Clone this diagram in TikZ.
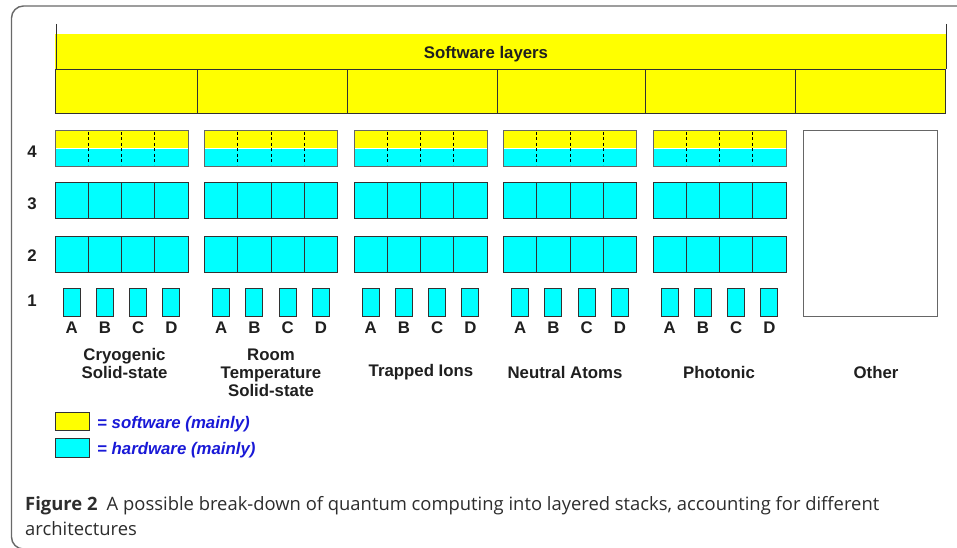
\documentclass[tikz,border=0pt]{standalone}
\usepackage{fontspec}
\setmainfont{Liberation Sans}
\newfontfamily\capfont{Open Sans}
\usetikzlibrary{calc}
\definecolor{yel}{RGB}{255,255,0}
\definecolor{cya}{RGB}{0,255,255}
\definecolor{legblue}{RGB}{25,25,215}
\definecolor{framec}{RGB}{105,105,105}
\definecolor{captxt}{RGB}{45,45,45}
\definecolor{edge}{RGB}{50,50,50}
\begin{document}
\begin{tikzpicture}[x=1pt,y=-1pt,
  box/.style={draw=edge, line width=0.9pt, inner sep=0pt, outer sep=0pt},
  lab/.style={font=\bfseries\fontsize{16.8}{18}\selectfont, text=black!88, align=center, inner sep=0pt},
  leg/.style={font=\bfseries\itshape\fontsize{16.8}{18}\selectfont, text=legblue, inner sep=0pt, anchor=west},
  captext/.style={font=\capfont\fontsize{18.4}{25}\selectfont, text=captxt, inner sep=0pt, anchor=base west},
  divline/.style={draw=black, line width=1pt, dash pattern=on 3pt off 2.5pt}
]
\useasboundingbox (0,0) rectangle (957,548);
\clip (0,0) rectangle (957,548);
\fill[white] (0,0) rectangle (957,548);
% frame
\draw[framec, line width=1.4pt, rounded corners=12pt] (11.5,6) rectangle (1000,549);

% software layers band
\fill[yel] (55,34) rectangle (946,69);
\node[lab] (swl) at (486,54) {Software layers};
\coordinate (swlL) at (56,24);
\coordinate (swlR) at (946,24);
\draw[edge, line width=0.9pt] (swlL) -- (56,69);
\draw[edge, line width=0.9pt] (swlR) -- (946,69);
% second software row
\foreach \a/\b [count=\n] in {55/197,197/347,347/497,497/645,645/795,795/945} {
  \node[box, fill=yel, minimum width={\b-\a}, minimum height=44.5pt, anchor=north west] (sl\n) at (\a,69) {};
}

% layer numbers
\node[lab] (n4) at (32,152) {4};
\node[lab] (n3) at (32,204) {3};
\node[lab] (n2) at (32,256) {2};
\node[lab] (n1) at (32,300.5) {1};

% stacks
\foreach \g in {0,1,2,3,4} {
  \pgfmathsetmacro\X{55+149.5*\g}
  \fill[yel] (\X,130) rectangle ++(133,18);
  \fill[cya] (\X,148) rectangle ++(133,18);
  \draw[white, line width=0.6pt] (\X,148) -- ++(133,0);
  \node[box, draw=black!60, minimum width=133pt, minimum height=36pt, anchor=north west] (r4-\g) at (\X,130) {};
  \foreach \k in {1,2,3} {
    \draw[divline] ($(r4-\g.north west)!\k/4!(r4-\g.north east)+(0,2)$) -- ($(r4-\g.south west)!\k/4!(r4-\g.south east)+(0,-1)$);
  }
  \foreach \i/\L in {0/A,1/B,2/C,3/D} {
    \node[box, fill=cya, minimum width=33.25pt, minimum height=36pt, anchor=north west] (r3-\g-\i) at ({\X+33.25*\i},182.7) {};
    \node[box, fill=cya, minimum width=33.25pt, minimum height=36pt, anchor=north west] (r2-\g-\i) at ({\X+33.25*\i},236) {};
    \node[box, fill=cya, minimum width=17pt, minimum height=28pt, anchor=north] (r1-\g-\i) at ({\X+33.25*\i+16.6},288) {};
    \node[lab] (l-\g-\i) at ({\X+33.25*\i+16.6},328) {\L};
  }
}
% other box
\node[box, draw=black!60, minimum width=134pt, minimum height=186pt, anchor=north west] (other) at (803,130) {};

% architecture labels
\node[lab] (t0) at (124.5,363.5) {Cryogenic\\Solid-state};
\node[lab] (t1) at (271,372.5) {Room\\Temperature\\Solid-state};
\node[lab] (t2) at (421,372.5) {Trapped Ions};
\node[lab] (t3) at (565,372.5) {Neutral Atoms};
\node[lab] (t4) at (719,372.5) {Photonic};
\node[lab] (t5) at (876,372.5) {Other};

% legend
\node[box, fill=yel, minimum width=34pt, minimum height=18.5pt, anchor=north west] (legsw) at (55,412) {};
\node[box, fill=cya, minimum width=34pt, minimum height=18.5pt, anchor=north west] (leghw) at (55,438.5) {};
\node[leg] (legswt) at ($(legsw.east)+(8,2.5)$) {= software (mainly)};
\node[leg] (leghwt) at ($(leghw.east)+(8,2)$) {= hardware (mainly)};

% caption
\node[captext] (cap1) at (25,510) {\textbf{Figure 2}\hspace{0.5em}A possible break-down of quantum computing into layered stacks, accounting for different};
\node[captext] (cap2) at (25,535.5) {architectures};
\end{tikzpicture}
\end{document}
